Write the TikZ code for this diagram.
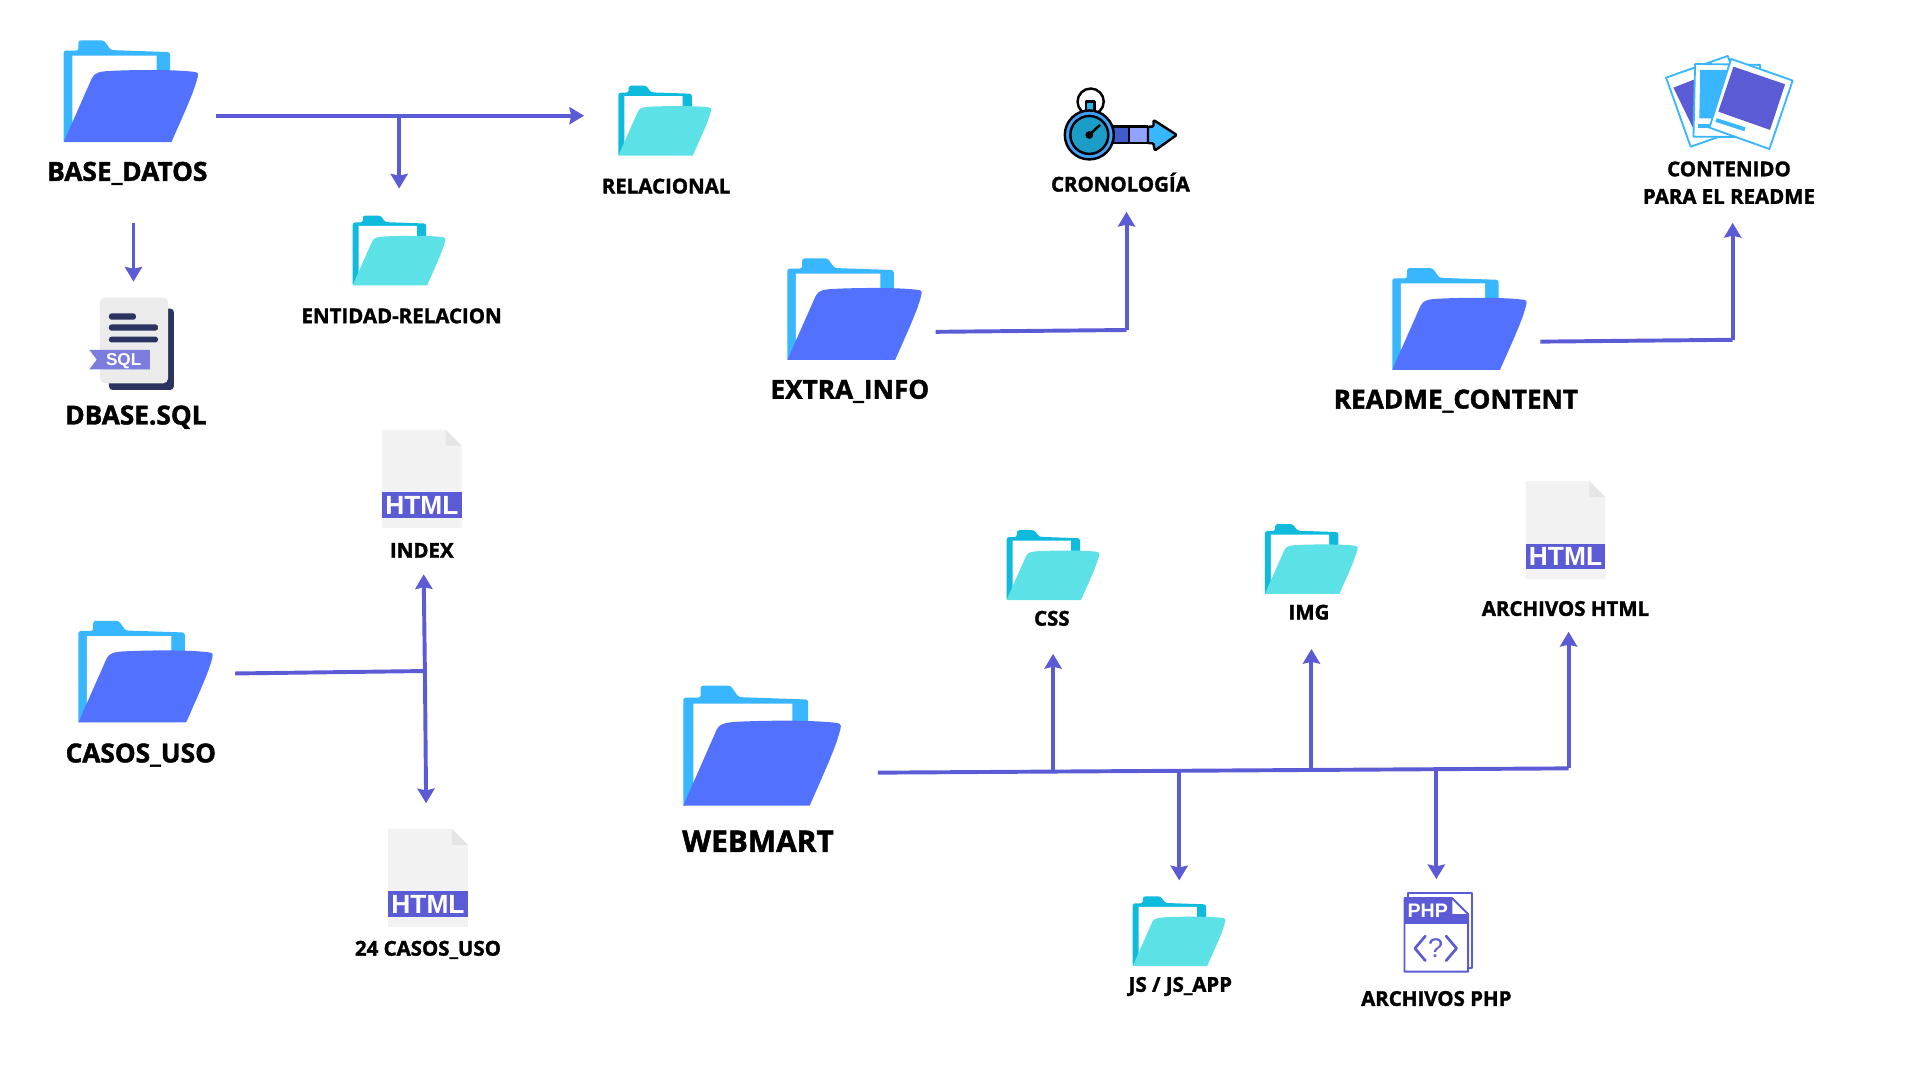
\documentclass[tikz,border=0pt]{standalone}
\usepackage{fontspec}
\usepackage{xcolor}
\setmainfont{Open Sans}[BoldFeatures={FakeBold=1.6}]
\newfontfamily\iconfont{Liberation Sans}
\usetikzlibrary{arrows.meta, positioning}

\definecolor{linecol}{HTML}{5B5BD6}
\definecolor{backblue}{HTML}{38B6FF}
\definecolor{frontblue}{HTML}{5271FF}
\definecolor{backteal}{HTML}{0FBBDD}
\definecolor{frontteal}{HTML}{5CE1E6}
\definecolor{sqldark}{HTML}{2B3360}

\newcommand{\folderart}[5]{
  \begin{scope}[shift={(#1.north west)}, x=#4pt, y=-#5pt]
    \fill [#2, rounded corners=2pt] (0,101) -- (0,10) -- (11,10) -- (11,0) -- (30,0) -- (35,9.5) -- (79,11.5) -- (79,40) -- cycle;
    \fill [white] (6.4,15) -- (69,15) -- (69,50) -- (6.4,95) -- cycle;
    \fill [#3] (0,100) -- (21,37) .. controls (23,31) and (28,30.5) .. (35,30) .. controls (60,28.5) and (85,29) .. (97,31) .. controls (100,31.5) and (100,33) .. (99.5,36) .. controls (97,50) and (90,70) .. (80,100) -- cycle;
  \end{scope}
}
\newcommand{\bigart}[1]{\folderart{#1}{backblue}{frontblue}{1.10}{0.83}}
\newcommand{\smallart}[1]{\folderart{#1}{backteal}{frontteal}{0.76}{0.57}}
\newcommand{\htmlart}[1]{
  \begin{scope}[shift={(#1.north west)}]
    \fill [black!5] (0,0) -- (52,0) -- (65,13) -- (65,80) -- (0,80) -- cycle;
    \fill [black!10] (52,0) -- (65,13) -- (52,13) -- cycle;
  \end{scope}
}
\newcommand{\sqlart}[1]{
  \begin{scope}[shift={(#1.north west)}]
    \fill [sqldark, rounded corners=3pt] (16,9) rectangle (69,75.5);
    \fill [black!8, rounded corners=4pt] (8.6,0) rectangle (64.3,70);
    \fill [sqldark, rounded corners=2pt] (16,13) rectangle (38,18);
    \fill [sqldark, rounded corners=2pt] (16,22) rectangle (56,27);
    \fill [sqldark, rounded corners=2pt] (16,32) rectangle (56,36.6);
    \fill [linecol!80!white] (0,42.8) -- (49.3,42.8) -- (49.3,58.6) -- (0,58.6) -- (6,50.7) -- cycle;
  \end{scope}
}
\newcommand{\cronoart}[1]{
  \begin{scope}[shift={(#1.north west)}, line width=2pt, line join=round]
    \draw (22.7,10) circle (10.7);
    \draw [fill=backblue!60!backteal] (19,10) rectangle (26,18);
    \fill [frontblue!80!black] (38,30.4) rectangle (54,44);
    \fill [frontblue!65!white] (54,30.4) rectangle (69.5,44);
    \draw [fill=backblue, rounded corners=1pt] (69.5,30.4) -- (74,30.4) -- (74,25) -- (93,37.2) -- (75,50) -- (74,44) -- (69.5,44) -- cycle;
    \draw (38,30.4) -- (69.5,30.4) (38,44) -- (69.5,44) (54,30.4) -- (54,44) (69.5,30.4) -- (69.5,44);
    \draw [fill=frontblue!30!backblue] (21.6,37.2) circle (20);
    \draw [fill=backblue!40!backteal!85!black] (21.6,37.2) circle (15.5);
    \draw (21.6,37.2) -- (30.3,29);
    \fill (21.6,37.2) circle (3.2);
  \end{scope}
}
\newcommand{\photoart}[1]{
  \begin{scope}[shift={(#1.north west)}, draw=backblue, line width=1.5pt, line join=round]
    \draw [fill=white] (2.6,19.4) -- (53,1.7) -- (73.1,58.1) -- (22.7,75.8) -- cycle;
    \fill [linecol] (8.6,27.6) -- (28,20) -- (28,62) -- (24.4,60) -- cycle;
    \draw [fill=white] (26.3,8.2) -- (79.4,9) -- (79.4,68) -- (25,67.6) -- cycle;
    \fill [backblue] (30.4,13.1) -- (56,13.1) -- (42.6,52.6) -- (29.8,52.6) -- cycle;
    \fill [backblue] (29,57.5) rectangle (38.5,60.8);
    \draw [fill=white] (55.7,4.1) -- (106,21.8) -- (87,77.7) -- (38,60.2) -- cycle;
    \fill [linecol] (57.6,10.4) -- (99.8,24.8) -- (87.5,62.1) -- (45.3,47.2) -- cycle;
    \draw [backblue, line width=3.2pt] (43.4,54) -- (67.1,61.6);
  \end{scope}
}
\newcommand{\phpart}[1]{
  \begin{scope}[shift={(#1.north west)}, draw=linecol, line width=1.6pt, line join=round]
    \draw [fill=white] (4,1) rectangle (56,62);
    \draw [fill=white] (1,5) -- (40,5) -- (53,18) -- (53,65) -- (1,65) -- cycle;
    \fill [linecol] (1,5) -- (40,5) -- (40,18) -- (53,18) -- (53,26) -- (1,26) -- cycle;
    \draw [line cap=round, line width=2.2pt] (18,36) -- (9.5,46) -- (18,56);
    \draw [line cap=round, line width=2.2pt] (35,36) -- (43.5,46) -- (35,56);
  \end{scope}
}

\tikzstyle{arrow} = [line width=3.2pt, draw=linecol, ->, >={Stealth[length=12pt,width=14pt,inset=1.5pt]}]
\tikzstyle{stem} = [line width=3.2pt, draw=linecol]
\tikzstyle{icon} = [rectangle, inner sep=0pt, outer sep=0pt]
\tikzstyle{bigfolder} = [icon, minimum width=110pt, minimum height=83pt]
\tikzstyle{smallfolder} = [icon, minimum width=76pt, minimum height=57pt]
\tikzstyle{htmlfile} = [icon, minimum width=65pt, minimum height=80pt]
\tikzstyle{htmlband} = [icon, minimum width=65pt, minimum height=21pt, fill=linecol, text=white, font=\iconfont\fontsize{21.5}{21.5}\selectfont\bfseries]
\tikzstyle{bigtext} = [inner sep=0pt, text height=15.3pt, text depth=0pt, font=\fontsize{21.4}{21.4}\selectfont\bfseries]
\tikzstyle{smalltext} = [inner sep=0pt, text height=11.9pt, text depth=0pt, font=\fontsize{16.7}{16.7}\selectfont\bfseries]

\begin{document}
\begin{tikzpicture}[x=1pt, y=-1pt]
\useasboundingbox (0,0) rectangle (1568,882);

\node (fbase) [bigfolder] at (107,74.5) {};
\node (frelacional) [smallfolder] at (543,98.5) {};
\node (fentidad) [smallfolder] at (326,204.5) {};
\node (fsql) [icon, minimum width=69pt, minimum height=75.5pt] at (107.5,280.75) {};
\node (fextra) [bigfolder] at (698,252.5) {};
\node (fcrono) [icon, minimum width=94pt, minimum height=60pt] at (915,103) {};
\node (freadme) [bigfolder] at (1192,260.5) {};
\node (fphotos) [icon, minimum width=108pt, minimum height=80pt] at (1412,84) {};
\node (fcasos) [bigfolder] at (119,548.5) {};
\node (findex) [htmlfile] at (344.5,391) {};
\node (fcasosuso) [htmlfile] at (349.5,717) {};
\node (fwebmart) [icon, minimum width=129pt, minimum height=98pt] at (622.5,609) {};
\node (fcss) [smallfolder] at (860,461.5) {};
\node (fimg) [smallfolder] at (1071,456.5) {};
\node (fhtml) [htmlfile] at (1278.5,433) {};
\node (fjs) [smallfolder] at (963,760.5) {};
\node (fphp) [icon, minimum width=57pt, minimum height=66pt] at (1174.5,761.5) {};

\bigart{fbase}
\bigart{fextra}
\bigart{freadme}
\bigart{fcasos}
\folderart{fwebmart}{backblue}{frontblue}{1.29}{0.98}
\smallart{frelacional}
\smallart{fentidad}
\smallart{fcss}
\smallart{fimg}
\smallart{fjs}
\htmlart{findex}
\htmlart{fcasosuso}
\htmlart{fhtml}
\sqlart{fsql}
\cronoart{fcrono}
\photoart{fphotos}
\phpart{fphp}

\node (bindex) [htmlband] at ([yshift=-21.5pt]findex.center) {HTML};
\node (bcasosuso) [htmlband] at ([yshift=-21.5pt]fcasosuso.center) {HTML};
\node (bhtml) [htmlband] at ([yshift=-21.5pt]fhtml.center) {HTML};
\node (bsql) [inner sep=0pt, text=white, font=\iconfont\fontsize{14}{14}\selectfont\bfseries] at (101,295) {SQL};
\node (bphp) [inner sep=0pt, text=white, font=\iconfont\fontsize{16}{16}\selectfont\bfseries] at (1166,743.5) {PHP};
\node (qphp) [inner sep=0pt, text=linecol, font=\iconfont\fontsize{22}{22}\selectfont] at (1172.5,774.5) {?};

\node (tbase) [bigtext, below of=fbase, node distance=65.5pt, xshift=-3pt] {BASE\_DATOS};
\node (trelacional) [smalltext, below of=frelacional, node distance=53.5pt, xshift=1pt] {RELACIONAL};
\node (tentidad) [smalltext, below of=fentidad, node distance=53.5pt, xshift=2pt] {ENTIDAD-RELACION};
\node (tsql) [bigtext, below of=fsql, node distance=58.25pt, xshift=3.5pt] {DBASE.SQL};
\node (textra) [bigtext, below of=fextra, node distance=65.5pt, xshift=-4pt] {EXTRA\_INFO};
\node (tcrono) [smalltext, below of=fcrono, node distance=47.5pt] {CRONOLOGÍA};
\node (treadme) [bigtext, below of=freadme, node distance=65.5pt, xshift=-3pt] {README\_CONTENT};
\node (tphotos) [smalltext, below of=fphotos, node distance=54pt] {CONTENIDO};
\node (tphotosb) [smalltext, below of=tphotos, node distance=22.5pt] {PARA EL README};
\node (tcasos) [bigtext, below of=fcasos, node distance=66.5pt, xshift=-4pt] {CASOS\_USO};
\node (tindex) [smalltext, below of=findex, node distance=58.5pt] {INDEX};
\node (tcasosuso) [smalltext, below of=fcasosuso, node distance=57.5pt] {24 CASOS\_USO};
\node (twebmart) [bigtext, below of=fwebmart, node distance=78pt, xshift=-3.5pt, text height=17.5pt, font=\fontsize{24.4}{24.4}\selectfont\bfseries] {WEBMART};
\node (tcss) [smalltext, below of=fcss, node distance=43.5pt, xshift=-1pt] {CSS};
\node (timg) [smalltext, below of=fimg, node distance=43.5pt, xshift=-2pt] {IMG};
\node (thtml) [smalltext, below of=fhtml, node distance=64pt] {ARCHIVOS HTML};
\node (tjs) [smalltext, below of=fjs, node distance=43.5pt, xshift=1pt] {JS / JS\_APP};
\node (tphp) [smalltext, below of=fphp, node distance=54pt, xshift=-1.5pt] {ARCHIVOS PHP};

\coordinate (jbase) at (326,94.5);
\coordinate (jextra) at (920,269.5);
\coordinate (jreadme) at (1415,277.5);
\coordinate (jcasos) at (347,548);
\coordinate (jcss) at (860,630.2);
\coordinate (jjs) at (963,629.8);
\coordinate (jimg) at (1071,629);
\coordinate (jphp) at (1173,628.5);
\coordinate (jhtml) at (1281,627.5);

\draw [arrow] ([xshift=14pt,yshift=-20pt]fbase.east) -- ([xshift=-28pt,yshift=4pt]frelacional.west);
\draw [arrow] (jbase) -- ([yshift=22pt]fentidad.north);
\draw [arrow] ([xshift=2pt,yshift=-66pt]fbase.south) -- ([xshift=1.5pt,yshift=13pt]fsql.north);
\draw [stem] ([xshift=11pt,yshift=-18.5pt]fextra.east) -- (jextra);
\draw [arrow] (jextra) -- ([xshift=5pt,yshift=-40pt]fcrono.south);
\draw [stem] ([xshift=11pt,yshift=-18.5pt]freadme.east) -- (jreadme);
\draw [arrow] (jreadme) -- ([xshift=3pt,yshift=-58pt]fphotos.south);
\draw [stem] ([xshift=18pt,yshift=-1.5pt]fcasos.east) -- (jcasos);
\draw [arrow] (jcasos) -- ([xshift=1.5pt,yshift=-38pt]findex.south);
\draw [arrow] (jcasos) -- ([xshift=-1.5pt,yshift=21pt]fcasosuso.north);
\draw [stem] ([xshift=30pt,yshift=-22pt]fwebmart.east) -- (jhtml);
\draw [arrow] (jhtml) -- ([xshift=2.5pt,yshift=-43pt]fhtml.south);
\draw [arrow] (jcss) -- ([yshift=-44pt]fcss.south);
\draw [arrow] (jimg) -- ([yshift=-45pt]fimg.south);
\draw [arrow] (jjs) -- ([yshift=13pt]fjs.north);
\draw [arrow] (jphp) -- ([xshift=-1.5pt,yshift=10.5pt]fphp.north);

\end{tikzpicture}
\end{document}
